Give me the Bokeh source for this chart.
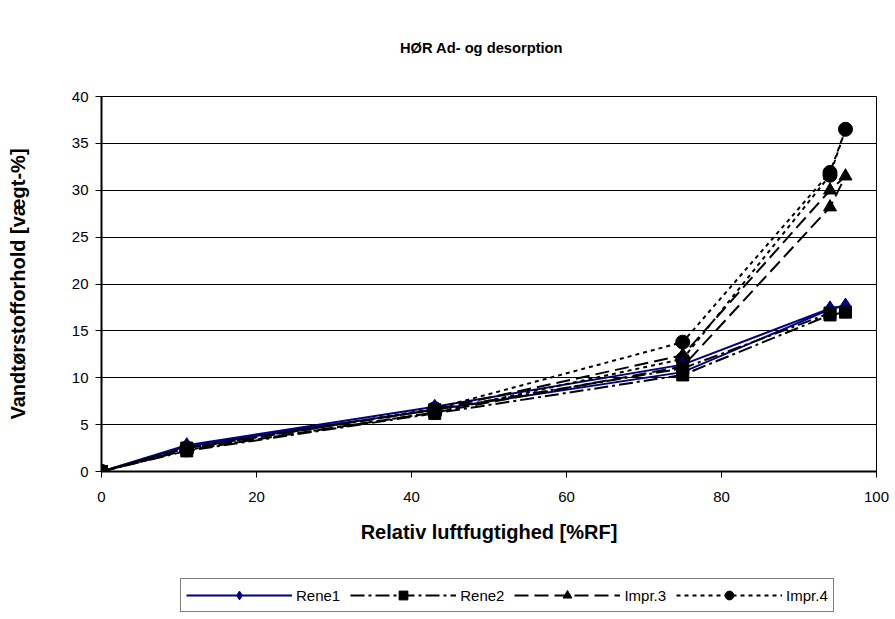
from bokeh.plotting import figure
from bokeh.layouts import column
from bokeh.models import Legend, LegendItem, Range1d, FixedTicker, Label
from bokeh.embed import file_html
from bokeh.resources import INLINE

# relative humidity sequence: adsorption up to 96 %RF, then desorption back
rh = [0, 11, 43, 75, 94, 96, 94, 75, 43, 11, 0]
rene1 = [0, 2.7, 6.6, 10.6, 17.3, 17.7, 17.4, 11.4, 6.9, 2.8, 0]
rene2 = [0, 2.2, 6.2, 10.3, 16.7, 17.0, 16.9, 11.0, 6.6, 2.5, 0]
impr3 = [0, 2.3, 6.3, 11.2, 28.2, 31.5, 30.0, 12.4, 6.6, 2.5, 0]
impr4 = [0, 2.3, 6.3, 12.0, 31.6, 36.5, 31.9, 13.8, 6.7, 2.5, 0]
series_names = ["Rene1", "Rene2", "Impr.3", "Impr.4"]
x_ticks = [0, 20, 40, 60, 80, 100]
y_ticks = [0, 5, 10, 15, 20, 25, 30, 35, 40]

FONT = "Liberation Sans"
TICK_FS = "15px"
TITLE_FS = "14.7px"
LAB_FS = "20px"

W = 893
H0, H1, H2 = 60, 500, 57
FRAME_L, FRAME_R = 101, 876


def blank(h):
    f = figure(width=W, height=h, output_backend="svg", toolbar_location=None,
               x_axis_location=None, y_axis_location=None,
               x_range=Range1d(-2, -1), y_range=Range1d(-2, -1), min_border=0)
    f.grid.visible = False
    f.outline_line_color = None
    f.background_fill_color = "white"
    f.border_fill_color = "white"
    return f


# title strip
p0 = blank(H0)
p0.add_layout(Label(x=380, y=H0 - 47, x_units="screen", y_units="screen",
                    text="HØR Ad- og desorption", text_font=FONT,
                    text_font_size=TITLE_FS, text_font_style="bold",
                    text_align="center", text_baseline="middle", text_color="black"))

# main chart
p = figure(width=W, height=H1, output_backend="svg", toolbar_location=None,
           x_range=Range1d(0, 100), y_range=Range1d(0, 40),
           min_border_left=FRAME_L, min_border_right=W - FRAME_R,
           min_border_top=96 - H0, min_border_bottom=H0 + H1 - 471)
p.background_fill_color = "white"
p.border_fill_color = "white"
p.outline_line_color = "black"
p.outline_line_width = 1

p.xgrid.visible = False
p.ygrid.grid_line_color = "black"
p.ygrid.grid_line_width = 1
p.ygrid.ticker = FixedTicker(ticks=y_ticks)

p.xaxis.ticker = FixedTicker(ticks=x_ticks)
p.yaxis.ticker = FixedTicker(ticks=y_ticks)
for ax in (p.xaxis, p.yaxis):
    ax.axis_line_color = "black"
    ax.axis_line_width = 2
    ax.major_tick_line_color = "black"
    ax.major_tick_in = 0
    ax.major_tick_out = 6
    ax.minor_tick_line_color = None
    ax.major_label_text_font = FONT
    ax.major_label_text_font_size = TICK_FS
    ax.major_label_text_color = "black"
    ax.axis_label_text_font = FONT
    ax.axis_label_text_font_size = LAB_FS
    ax.axis_label_text_font_style = "bold"
    ax.axis_label_text_color = "black"
p.xaxis.axis_label = "Relativ luftfugtighed [%RF]"
p.yaxis.axis_label = "Vandtørstofforhold [vægt-%]"
p.xaxis.major_label_standoff = 14
p.xaxis.axis_label_standoff = 16
p.yaxis.major_label_standoff = 7
p.yaxis.axis_label_standoff = 40

styles = {
    "Rene1": (rene1, "#000080", "solid", "diamond", 15),
    "Rene2": (rene2, "black", "14 4 3 4", "square", 12),
    "Impr.3": (impr3, "black", "14 6", "triangle", 13),
    "Impr.4": (impr4, "black", "4 4", "circle", 14),
}

# lines first, then markers (drawing order as in the original)
for name in series_names:
    ys, col, dash, mk, sz = styles[name]
    p.line(rh, ys, line_color=col, line_width=2, line_dash=dash)
for name in ["Impr.4", "Impr.3", "Rene1", "Rene2"]:
    ys, col, dash, mk, sz = styles[name]
    p.scatter(rh, ys, marker=mk, size=sz, fill_color=col, line_color=col)

# legend strip; its renderers reuse the data but lie outside the strip's ranges
p2 = blank(H2)
items = []
for name in series_names:
    ys, col, dash, mk, sz = styles[name]
    l2 = p2.line(rh, ys, line_color=col, line_width=2, line_dash=dash)
    s2 = p2.scatter(rh, ys, marker=mk, size=sz, fill_color=col, line_color=col)
    items.append(LegendItem(label=name, renderers=[l2, s2]))

legend = Legend(items=items, orientation="horizontal", location=(79, 5),
                label_text_font=FONT, label_text_font_size=TICK_FS, label_text_color="black",
                glyph_width=106, glyph_height=22, label_standoff=4, spacing=10,
                padding=5, margin=0, border_line_color="black", border_line_width=1,
                background_fill_color="white", background_fill_alpha=1)
p2.add_layout(legend, "center")

page = column(p0, p, p2, spacing=0)
open("out.html", "w").write(file_html(page, INLINE))
